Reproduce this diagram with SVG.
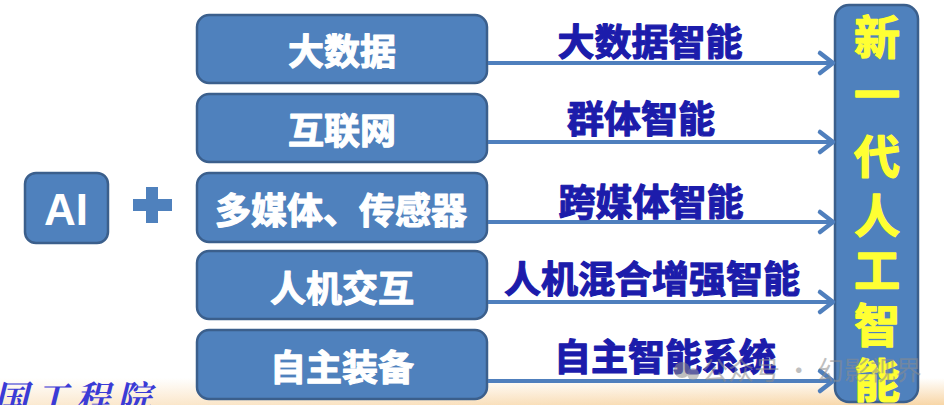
<svg xmlns="http://www.w3.org/2000/svg" width="944" height="405" viewBox="0 0 944 405">
<defs>
<linearGradient id="band" x1="0" y1="0" x2="0" y2="1">
<stop offset="0" stop-color="#ffffff"/>
<stop offset="1" stop-color="#f8d6a6"/>
</linearGradient>
<linearGradient id="bandx" x1="0" y1="0" x2="1" y2="0">
<stop offset="0" stop-color="#ffffff" stop-opacity="0.5"/>
<stop offset="1" stop-color="#ffffff" stop-opacity="0"/>
</linearGradient>
<marker id="chev" markerUnits="userSpaceOnUse" markerWidth="30" markerHeight="30" viewBox="-20 -15 30 30" refX="0" refY="0" orient="auto">
<path d="M -13 -10 L 0 0 L -13 10" fill="none" stroke="#4f7fbd" stroke-width="4.5" stroke-linecap="round" stroke-linejoin="round"/>
</marker>
</defs>
<style>
.box{fill:#4f81bd;stroke:#3b5f8c;stroke-width:2.5}
.wt{fill:#ffffff;stroke:#ffffff;stroke-width:1.2;stroke-linejoin:round;font-family:"Noto Sans CJK SC","Liberation Sans",sans-serif;font-weight:700;font-size:36px;text-anchor:middle;dominant-baseline:central}
.lb{fill:#1c1cab;stroke:#1c1cab;stroke-width:1.2;stroke-linejoin:round;font-family:"Noto Sans CJK SC","Liberation Sans",sans-serif;font-weight:700;font-size:37px;text-anchor:middle;dominant-baseline:central}
.yt{fill:#ffff33;stroke:#ffff33;stroke-width:1.4;stroke-linejoin:round;font-family:"Noto Sans CJK SC",sans-serif;font-weight:700;font-size:46px;text-anchor:middle;dominant-baseline:central}
.ar{stroke:#4f7fbd;stroke-width:4;fill:none;marker-end:url(#chev)}
</style>
<rect x="0" y="0" width="944" height="405" fill="#ffffff"/>
<rect x="0" y="378" width="944" height="27" fill="url(#band)"/>
<rect x="0" y="378" width="944" height="27" fill="url(#bandx)"/>

<g id="node-ai">
<rect class="box" x="25" y="173" width="83" height="70" rx="11"/>
<text x="66" y="209" fill="#ffffff" font-family="Liberation Sans, Arial, sans-serif" font-weight="700" font-size="44" text-anchor="middle" dominant-baseline="central">AI</text>
</g>
<g id="node-plus">
<rect x="133" y="199" width="39" height="12" fill="#4f81bd"/>
<rect x="146" y="187" width="12" height="36" fill="#4f81bd"/>
</g>

<g id="node-bigdata">
<rect class="box" x="197" y="15" width="290" height="68" rx="12"/>
<text class="wt" x="342" y="49">大数据</text>
</g>
<g id="node-internet">
<rect class="box" x="197" y="94" width="290" height="68" rx="12"/>
<text class="wt" x="342" y="128">互联网</text>
</g>
<g id="node-multimedia">
<rect class="box" x="197" y="173" width="290" height="69" rx="12"/>
<text class="wt" x="341" y="208">多媒体、传感器</text>
</g>
<g id="node-hci">
<rect class="box" x="197" y="251" width="290" height="68" rx="12"/>
<text class="wt" x="342" y="286">人机交互</text>
</g>
<g id="node-auto">
<rect class="box" x="197" y="330" width="290" height="69" rx="12"/>
<text class="wt" x="342" y="365">自主装备</text>
</g>

<g id="node-newai">
<rect class="box" x="835" y="5" width="83" height="397" rx="14"/>
<text class="yt" x="877" y="34">新</text>
<text class="yt" x="877" y="91">一</text>
<text class="yt" x="877" y="153">代</text>
<text class="yt" x="877" y="212">人</text>
<text class="yt" x="877" y="267">工</text>
<text class="yt" x="877" y="322">智</text>
<text class="yt" x="877" y="377">能</text>
</g>

<g id="connectors">
<line class="ar" x1="488" y1="63" x2="833" y2="63"/>
<line class="ar" x1="488" y1="142" x2="833" y2="142"/>
<line class="ar" x1="488" y1="222" x2="833" y2="222"/>
<line class="ar" x1="488" y1="302" x2="833" y2="302"/>
<line class="ar" x1="488" y1="381" x2="833" y2="381"/>
<text class="lb" x="650" y="40">大数据智能</text>
<text class="lb" x="641" y="117">群体智能</text>
<text class="lb" x="651" y="200">跨媒体智能</text>
<text class="lb" x="652" y="277">人机混合增强智能</text>
<text class="lb" x="665" y="355">自主智能系统</text>
</g>

<g id="watermark" opacity="0.55">
<circle cx="682" cy="370" r="8" fill="#8a8a8a"/>
<circle cx="693" cy="374" r="6" fill="#9a9a9a"/>
<text x="702" y="380" fill="#8c8c8c" font-family="Noto Sans CJK SC, sans-serif" font-size="26">公众号 · 幻影视界</text>
</g>

<g id="footer">
<text x="-6" y="410" fill="#3b3bd6" font-family="Noto Serif CJK SC, Noto Sans CJK SC, serif" font-style="italic" font-weight="700" font-size="34" letter-spacing="7">国工程院</text>
</g>
</svg>
